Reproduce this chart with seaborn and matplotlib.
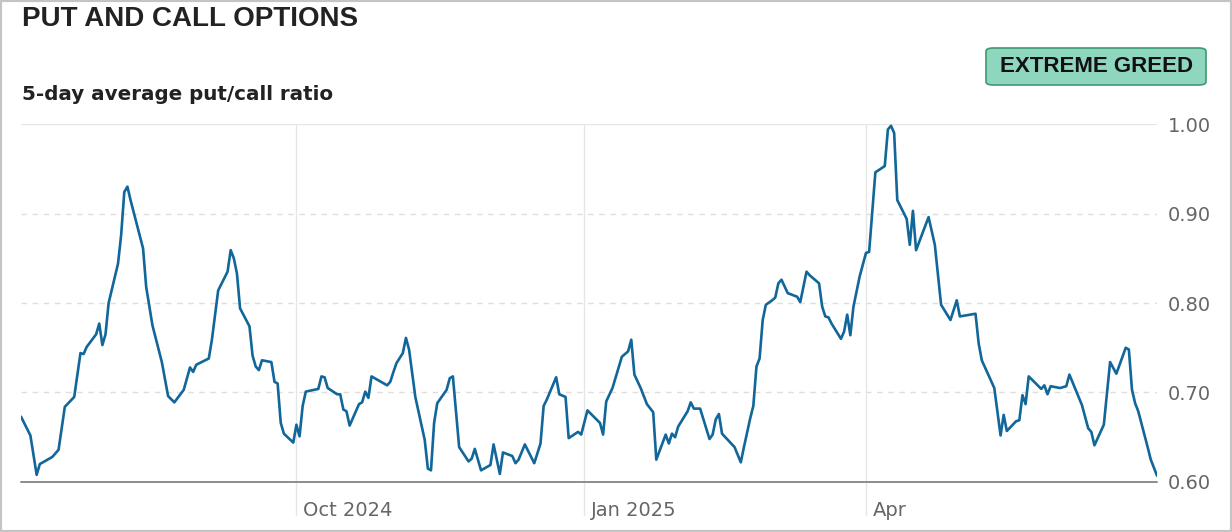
import matplotlib
matplotlib.use("Agg")
import matplotlib.pyplot as plt
import matplotlib.transforms as mtransforms
from matplotlib.patches import FancyBboxPatch, Rectangle
import seaborn as sns
import pandas as pd

# data: days since 2024-07-05 and 5-day average put/call ratio
start_date = "2024-07-05"
days = [
    0, 3, 5, 6, 10, 12, 14, 17, 19, 20, 21, 24, 25, 26, 27, 28, 31, 32, 33, 34,
    35, 39, 40, 42, 45, 47, 49, 52, 54, 55, 56, 60, 61, 63, 66, 67, 68, 69, 70, 73,
    74, 75, 76, 77, 80, 81, 82, 83, 84, 87, 88, 89, 90, 91, 95, 96, 97, 98, 101, 102,
    103, 104, 105, 108, 109, 110, 111, 112, 117, 118, 119, 120, 122, 123, 124, 126, 129, 130, 131, 132,
    133, 136, 137, 138, 140, 143, 144, 145, 147, 150, 151, 153, 154, 157, 158, 159, 161, 164, 165, 166,
    167, 168, 171, 172, 174, 175, 178, 179, 181, 185, 186, 187, 189, 192, 194, 195, 196, 198, 200, 202,
    203, 206, 207, 208, 209, 210, 213, 214, 215, 217, 220, 221, 222, 223, 224, 228, 230, 231, 233, 234,
    235, 236, 237, 238, 240, 241, 242, 243, 245, 248, 249, 251, 252, 255, 256, 257, 258, 259, 262, 263,
    264, 265, 266, 268, 270, 271, 273, 276, 277, 278, 279, 280, 283, 284, 285, 286, 290, 292, 294, 297,
    299, 300, 305, 306, 307, 311, 313, 314, 315, 318, 319, 320, 321, 322, 326, 327, 328, 329, 332, 333,
    334, 335, 339, 341, 342, 343, 346, 348, 350, 353, 354, 355, 356, 357, 360, 361, 363,
]
ratio = [
    0.673, 0.652, 0.608, 0.620, 0.628, 0.636, 0.684, 0.695, 0.744, 0.743, 0.751, 0.765, 0.777, 0.753, 0.765, 0.800, 0.844, 0.876, 0.924, 0.930,
    0.915, 0.861, 0.818, 0.775, 0.734, 0.696, 0.689, 0.703, 0.728, 0.723, 0.731, 0.738, 0.759, 0.814, 0.835, 0.859, 0.850, 0.833, 0.794, 0.774,
    0.741, 0.729, 0.725, 0.736, 0.734, 0.712, 0.710, 0.666, 0.654, 0.644, 0.664, 0.651, 0.685, 0.701, 0.704, 0.718, 0.717, 0.705, 0.698, 0.698,
    0.681, 0.679, 0.663, 0.687, 0.689, 0.701, 0.694, 0.718, 0.708, 0.712, 0.723, 0.733, 0.744, 0.761, 0.748, 0.695, 0.647, 0.615, 0.613, 0.666,
    0.688, 0.703, 0.716, 0.718, 0.639, 0.623, 0.626, 0.637, 0.613, 0.619, 0.642, 0.609, 0.633, 0.629, 0.621, 0.625, 0.642, 0.621, 0.632, 0.643,
    0.685, 0.692, 0.717, 0.698, 0.695, 0.649, 0.656, 0.653, 0.680, 0.666, 0.653, 0.690, 0.705, 0.740, 0.746, 0.759, 0.720, 0.705, 0.687, 0.678,
    0.625, 0.653, 0.643, 0.654, 0.650, 0.662, 0.679, 0.689, 0.682, 0.682, 0.648, 0.653, 0.670, 0.676, 0.654, 0.639, 0.622, 0.639, 0.671, 0.685,
    0.729, 0.738, 0.781, 0.798, 0.803, 0.806, 0.822, 0.826, 0.811, 0.807, 0.801, 0.835, 0.831, 0.822, 0.796, 0.785, 0.784, 0.777, 0.760, 0.768,
    0.787, 0.764, 0.796, 0.830, 0.856, 0.857, 0.946, 0.953, 0.994, 0.998, 0.990, 0.915, 0.894, 0.865, 0.903, 0.859, 0.896, 0.865, 0.798, 0.781,
    0.803, 0.785, 0.788, 0.755, 0.736, 0.705, 0.652, 0.675, 0.657, 0.668, 0.669, 0.697, 0.687, 0.718, 0.704, 0.708, 0.698, 0.707, 0.705, 0.706,
    0.707, 0.720, 0.686, 0.660, 0.656, 0.641, 0.664, 0.734, 0.721, 0.750, 0.748, 0.703, 0.688, 0.679, 0.639, 0.625, 0.607,
]
tick_dates = ["2024-10-01", "2025-01-01", "2025-04-01"]
tick_labels = ["Oct 2024", "Jan 2025", "Apr"]
y_ticks = [0.60, 0.70, 0.80, 0.90, 1.00]

df = pd.DataFrame({
    "date": pd.Timestamp(start_date) + pd.to_timedelta(days, unit="D"),
    "ratio": ratio,
})

sns.set_theme(style="white")
plt.rcParams["font.family"] = ["Liberation Sans", "DejaVu Sans"]

fig = plt.figure(figsize=(12.32, 5.32), dpi=100)
ax = fig.add_axes([0.01705, 0.094, 0.9221, 0.6729])

# grid lines
ax.axhline(1.0, color="#e6e6e6", lw=1.0, zorder=1)
for v in [0.7, 0.8, 0.9]:
    ax.axhline(v, color="#dedede", lw=1.0, dashes=(4, 4), zorder=1)
for d in tick_dates:
    ax.axvline(pd.Timestamp(d), ymin=-0.092, ymax=1.0, color="#e6e6e6",
               lw=1.0, clip_on=False, zorder=1)

sns.lineplot(data=df, x="date", y="ratio", estimator=None, sort=False,
             color="#11669a", lw=1.9, ax=ax, zorder=3)

ax.axhline(0.6, color="#8c8c8c", lw=1.4, clip_on=False, zorder=2)

ax.set_xlim(df["date"].iloc[0], df["date"].iloc[-1])
ax.set_ylim(0.6, 1.0)
for s in ax.spines.values():
    s.set_visible(False)
ax.set_xlabel("")
ax.set_ylabel("")

ax.yaxis.tick_right()
ax.set_yticks(y_ticks)
ax.set_yticklabels([f"{v:.2f}" for v in y_ticks], family="DejaVu Sans")
ax.tick_params(axis="y", length=0, pad=8, labelsize=14, labelcolor="#666666")

ax.set_xticks([pd.Timestamp(d) for d in tick_dates])
ax.set_xticklabels(tick_labels, ha="left", family="DejaVu Sans")
ax.tick_params(axis="x", length=0, pad=14, labelsize=14, labelcolor="#666666")
offset = mtransforms.ScaledTranslation(7 / 100, 0, fig.dpi_scale_trans)
for lab in ax.get_xticklabels():
    lab.set_transform(lab.get_transform() + offset)

# titles
fig.text(22 / 1232, 1 - 19 / 532, "PUT AND CALL OPTIONS", fontsize=20,
         fontweight="bold", color="#222222", va="center", ha="left")
fig.text(22 / 1232, 1 - 95 / 532, "5-day average put/call ratio", fontsize=14.3,
         fontweight="bold", color="#222222", va="center", ha="left",
         family="DejaVu Sans")

# badge
badge = FancyBboxPatch((986 / 1232, 1 - 85 / 532), 220 / 1232, 37 / 532,
                       boxstyle="round,pad=0,rounding_size=0.006",
                       transform=fig.transFigure, facecolor="#8fd6bf",
                       edgecolor="#3d9a70", lw=1.2)
fig.patches.append(badge)
fig.text(1096 / 1232, 1 - 66.5 / 532, "EXTREME GREED", fontsize=16,
         fontweight="bold", color="#111111", va="center", ha="center")

# outer frame
fig.patches.append(Rectangle((0, 0), 1, 1, transform=fig.transFigure,
                             fill=False, edgecolor="#c4c4c4", lw=3))

fig.savefig("out.png", dpi=100)
